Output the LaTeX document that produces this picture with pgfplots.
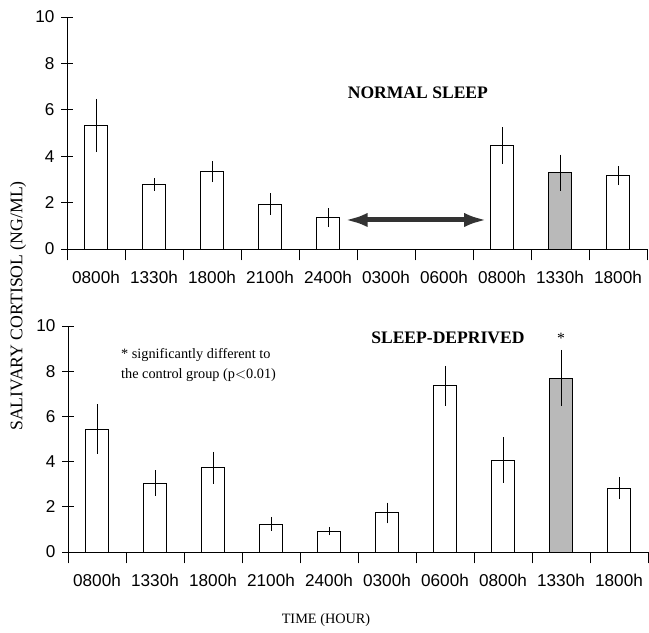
\documentclass[border=0pt]{standalone}
\usepackage{fontspec}
\setmainfont{Liberation Serif}
\setsansfont{Liberation Sans}
\usepackage{pgfplots}
\usepackage{pgfplotstable}
\pgfplotsset{compat=1.18}
\usetikzlibrary{arrows.meta}

% normal sleep
\pgfplotstableread{
x y e
0 5.32 1.15
1 2.77 0.27
2 3.33 0.45
3 1.94 0.47
4 1.35 0.41
7 4.46 0.78
9 3.16 0.41
}\normalwhite
\pgfplotstableread{
x y e
8 3.29 0.78
}\normalgray

% sleep deprived
\pgfplotstableread{
x y e
0 5.44 1.10
1 3.05 0.57
2 3.72 0.71
3 1.24 0.31
4 0.93 0.18
5 1.73 0.46
6 7.35 0.88
7 4.07 1.00
9 2.83 0.49
}\deprivedwhite
\pgfplotstableread{
x y e
8 7.70 1.24
}\deprivedgray

\pgfplotsset{
  cortisol/.style={
    scale only axis, width=406pt,
    xmin=-0.5, xmax=9.5, ymin=0, ymax=10,
    axis lines=left, axis line style={-, line width=0.6pt},
    xtick={-0.5,0.5,...,9.5},
    x tick label as interval,
    xticklabels={0800h,1330h,1800h,2100h,2400h,0300h,0600h,0800h,1330h,1800h},
    ytick={0,2,...,10},
    tick align=center, major tick length=8pt,
    tick style={black, line width=0.6pt},
    ticklabel style={font=\sffamily\fontsize{12}{14}\selectfont},
    xticklabel style={yshift=-3.7pt},
    yticklabel style={xshift=-1.2pt},
    /pgf/number format/assume math mode=true,
    ybar, bar width=0.41, bar shift=0pt,
    clip=false,
    error bars/y dir=both, error bars/y explicit,
    error bars/error mark=none,
    error bars/error bar style={black, line width=0.6pt},
  },
  whitebar/.style={draw=black, fill=white, line width=0.6pt},
  graybar/.style={draw=black, fill=gray!55, line width=0.6pt},
}

\begin{document}
\begin{tikzpicture}
\useasboundingbox (0,0) rectangle (454.3pt,443.1pt);

\begin{axis}[cortisol, height=162.4pt, at={(46.9pt,268.8pt)}, anchor=south west]
\addplot[whitebar] table[x=x, y=y, y error=e] {\normalwhite};
\addplot[graybar] table[x=x, y=y, y error=e] {\normalgray};
\draw[line width=3.5pt, black!80, {Latex[length=16pt,width=10pt]}-{Latex[length=16pt,width=10pt]}]
  (axis cs:4.29,1.25) -- (axis cs:6.74,1.25);
\node[font=\bfseries\fontsize{12.3}{14}\selectfont] at (axis cs:5.55,6.75) {NORMAL SLEEP};
\end{axis}

\begin{axis}[cortisol, height=158.2pt, at={(47.6pt,56.7pt)}, anchor=south west]
\addplot[whitebar] table[x=x, y=y, y error=e] {\deprivedwhite};
\addplot[graybar] table[x=x, y=y, y error=e] {\deprivedgray};
\node[font=\bfseries\fontsize{12.3}{14}\selectfont] at (axis cs:6.05,9.47) {SLEEP-DEPRIVED};
\node[font=\fontsize{11}{12}\selectfont] at (axis cs:8,9.45) {*};
\node[anchor=west, align=left, font=\fontsize{10}{14}\selectfont] at (axis cs:0.33,8.27)
  {* significantly different to\\the control group (p$<$0.01)};
\end{axis}

\node[rotate=90, font=\fontsize{12.4}{14}\selectfont] at (12.6pt,228.9pt) {SALIVARY CORTISOL (NG/ML)};
\node[font=\fontsize{10}{12}\selectfont] at (228.2pt,9.1pt) {TIME (HOUR)};
\end{tikzpicture}
\end{document}
